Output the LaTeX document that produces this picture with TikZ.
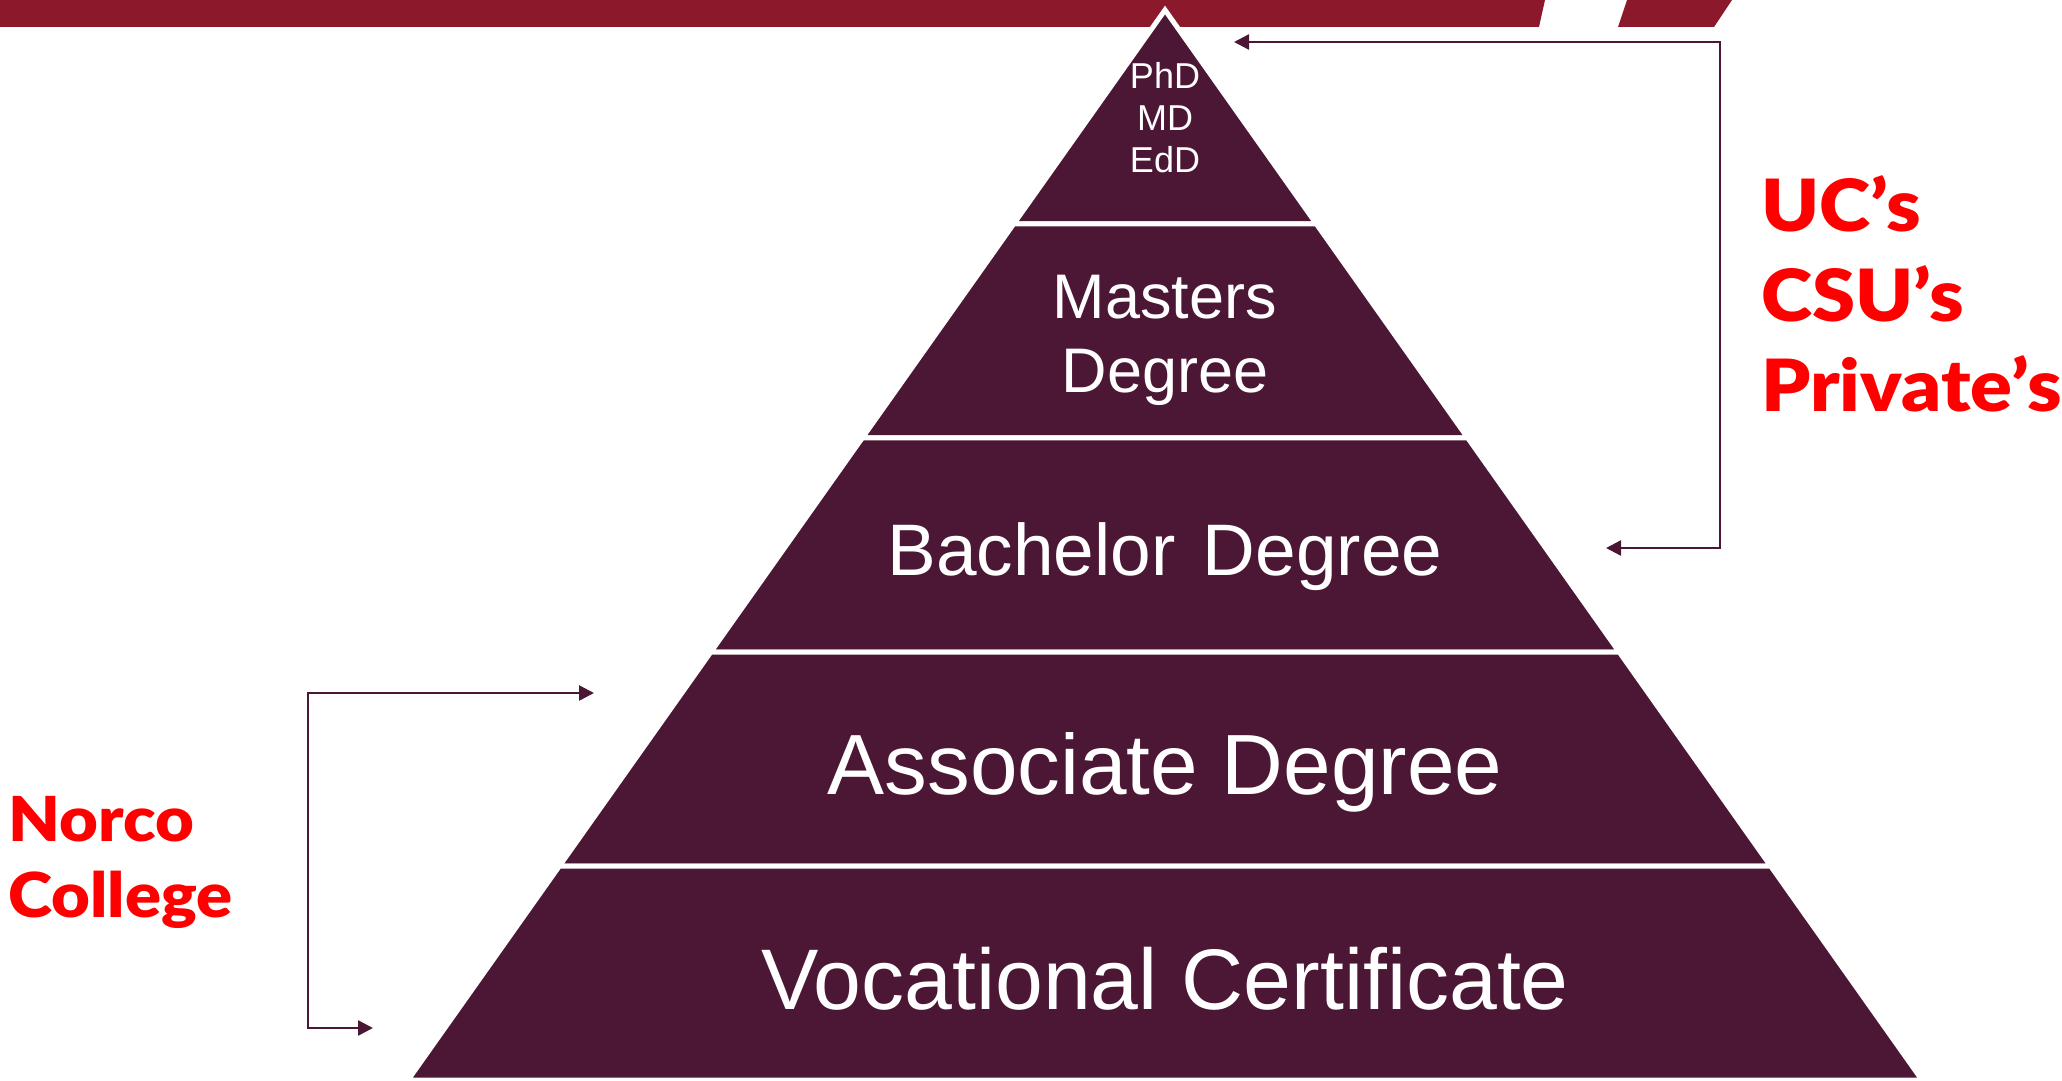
\documentclass[tikz,border=0pt]{standalone}
\usepackage{fontspec}
\setmainfont{Liberation Sans}
\newfontfamily\redfont[FakeStretch=1.08]{Lato Black}
\usetikzlibrary{calc,arrows.meta}

\definecolor{plum}{RGB}{76,22,53}
\definecolor{barred}{RGB}{139,25,43}
\definecolor{labelred}{RGB}{255,0,0}

\tikzset{
  tier/.style={fill=plum, draw=white, line width=5pt, line join=miter},
  tiertext/.style={text=white, inner sep=0pt},
  bracket/.style={draw=plum, line width=2.5pt, line join=miter,
    {Triangle[length=15pt,width=15pt]}-{Triangle[length=15pt,width=15pt]}},
  school/.style={text=labelred, align=left, inner sep=0pt, anchor=north west}
}

\begin{document}
\begin{tikzpicture}[x=1pt,y=-1pt]
\useasboundingbox (0,0) rectangle (2062,1081);

% the band along the top edge
\fill [barred] (0,0) -- (1545,0) -- (1539,27) -- (0,27) -- cycle;
\fill [barred] (1627,0) -- (1732,0) -- (1714,27) -- (1618,27) -- cycle;

\coordinate (apex) at (1165,10);
\coordinate (left) at (408,1080);
\coordinate (right) at (1922,1080);

% the pyramid: one triangle on top, four slices below it
\filldraw [tier] (apex) -- ($(apex)!0.2!(left)$) -- ($(apex)!0.2!(right)$) -- cycle;
\foreach \a/\b in {0.2/0.4,0.4/0.6,0.6/0.8,0.8/1}
  \filldraw [tier] ($(apex)!\a!(left)$) -- ($(apex)!\b!(left)$)
    -- ($(apex)!\b!(right)$) -- ($(apex)!\a!(right)$) -- cycle;

\node [tiertext, font=\fontsize{36}{42}\selectfont, align=center] (phd) at (1165,118) {PhD\\MD\\EdD};
\node [tiertext, font=\fontsize{63}{74}\selectfont, align=center] (masters) at (1165,340) {Masters\\Degree};
\node [tiertext, font=\fontsize{73}{86}\selectfont, anchor=base] (bachelor) at (1165,575) {Bachelor\hspace{0.375em}Degree};
\node [tiertext, font=\fontsize{85.5}{100}\selectfont, anchor=base] (associate) at (1165,794) {Associate Degree};
\node [tiertext, font=\fontsize{86}{100}\selectfont, anchor=base] (vocational) at (1165,1009) {Vocational Certificate};

% who grants what
\node [school, font=\redfont\fontsize{72}{90}\selectfont] (universities) at (1761,175) {UC’s\\CSU’s\\Private’s};
\node [school, font=\redfont\fontsize{62}{76}\selectfont] (norco) at (8,796) {Norco\\College};

\coordinate (uc top) at (1234,42);
\coordinate (uc rail) at (1720,548);
\coordinate (uc bot) at (1606,548);
\draw [bracket] (uc top) -| (uc rail) -- (uc bot);

\coordinate (nc top) at (594,693);
\coordinate (nc rail) at (308,1028);
\coordinate (nc bot) at (373,1028);
\draw [bracket] (nc top) -| (nc rail) -- (nc bot);

\end{tikzpicture}
\end{document}
